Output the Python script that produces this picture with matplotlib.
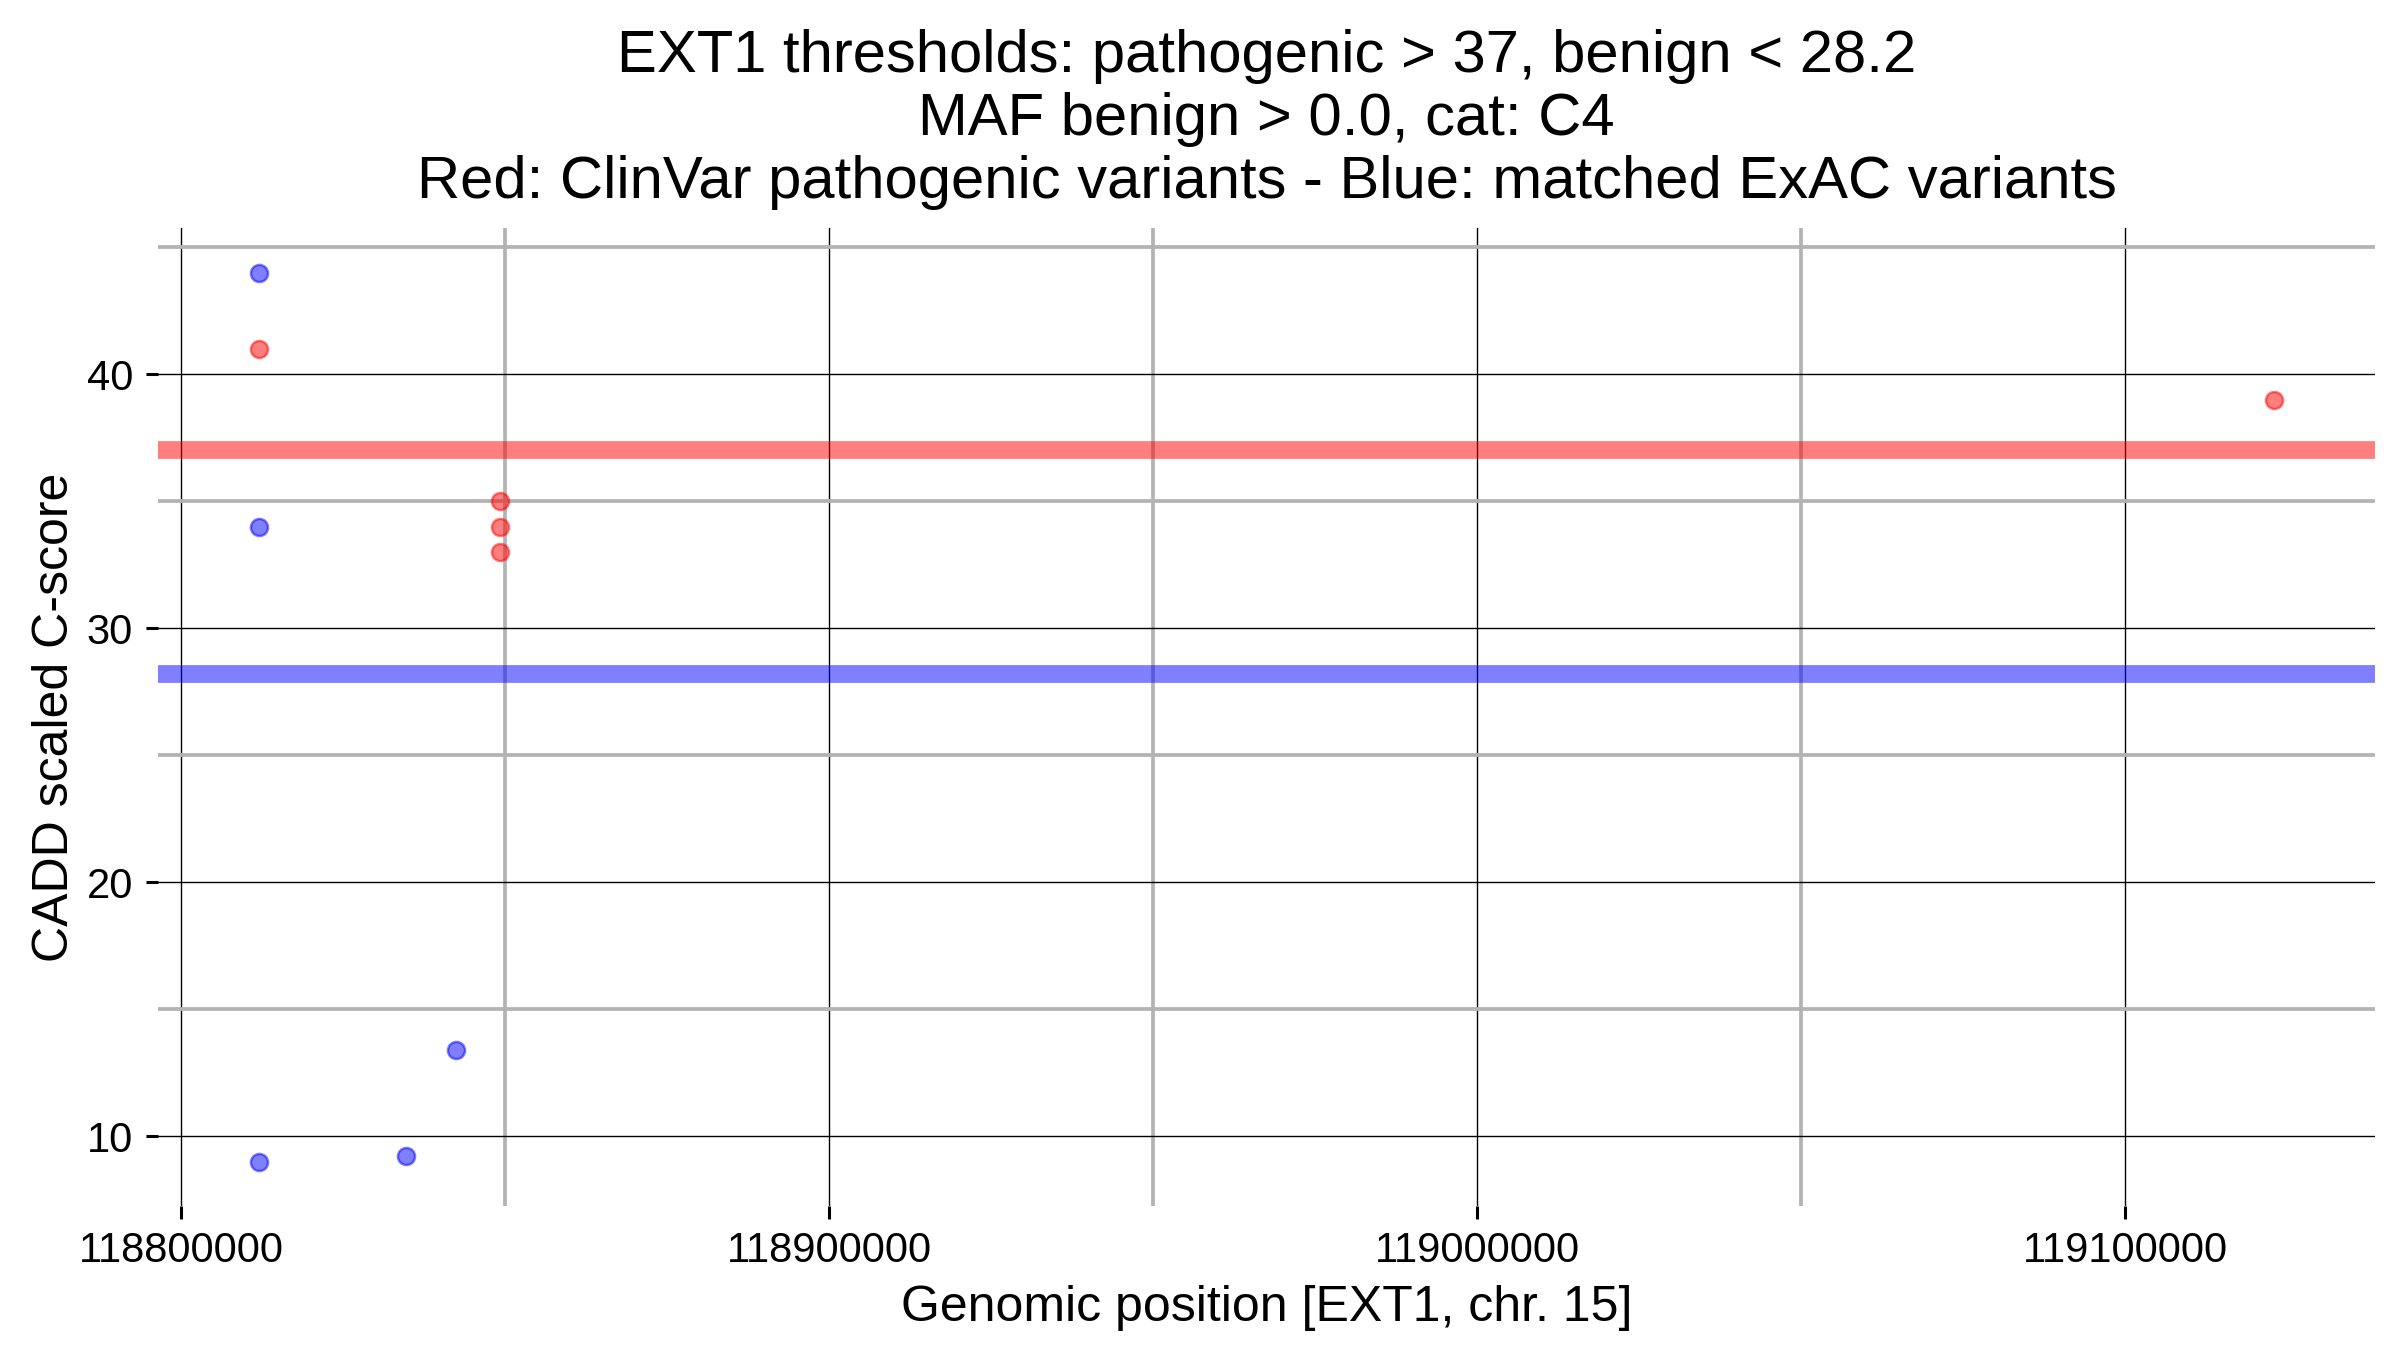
import matplotlib
matplotlib.use("Agg")
import matplotlib.pyplot as plt
from matplotlib.ticker import FixedLocator

plt.rcParams['font.family'] = ['Liberation Sans', 'DejaVu Sans']

# ---- data ----
benign_pos = [118812000, 118812000, 118812000, 118834800, 118842400]
benign_score = [44, 34, 9, 9.2, 13.4]
patho_pos = [118812000, 118849300, 118849300, 118849300, 119123000]
patho_score = [41, 35, 34, 33, 39]
patho_threshold = 37
benign_threshold = 28.2
x_major = [118800000, 118900000, 119000000, 119100000]
x_minor = [118850000, 118950000, 119050000]
y_major = [10, 20, 30, 40]
y_minor = [15, 25, 35, 45]
title_lines = ["EXT1 thresholds: pathogenic > 37, benign < 28.2",
               "MAF benign > 0.0, cat: C4",
               "Red: ClinVar pathogenic variants - Blue: matched ExAC variants"]
xlabel = "Genomic position [EXT1, chr. 15]"
ylabel = "CADD scaled C-score"

fig = plt.figure(figsize=(12, 6.75), dpi=200)
ax = fig.add_axes([0.0658, 0.1067, 0.9896 - 0.0658, 0.831 - 0.1067])

for s in ax.spines.values():
    s.set_visible(False)

ax.set_axisbelow(True)
ax.xaxis.set_major_locator(FixedLocator(x_major))
ax.xaxis.set_minor_locator(FixedLocator(x_minor))
ax.yaxis.set_major_locator(FixedLocator(y_major))
ax.yaxis.set_minor_locator(FixedLocator(y_minor))
ax.set_xticks(x_major)
ax.set_xticklabels([str(v) for v in x_major])
ax.set_yticks(y_major)
ax.set_yticklabels([str(v) for v in y_major])

ax.grid(which='minor', color='#b3b3b3', linewidth=1.35, zorder=0)
ax.grid(which='major', color='black', linewidth=0.5, zorder=0.5)
ax.tick_params(which='minor', length=0)
ax.tick_params(which='major', length=4.5, width=1.1, color='black',
               labelsize=15, pad=4.5, labelcolor='black')

ax.axhline(patho_threshold, color='red', alpha=0.5, linewidth=6.4, zorder=1)
ax.axhline(benign_threshold, color='blue', alpha=0.5, linewidth=6.4, zorder=1)

ax.scatter(patho_pos, patho_score, s=38, facecolor=(1, 0, 0, 0.5),
           edgecolor=(1, 0, 0, 0.5), linewidth=0.9, zorder=3)
ax.scatter(benign_pos, benign_score, s=38, facecolor=(0, 0, 1, 0.5),
           edgecolor=(0, 0, 1, 0.5), linewidth=0.9, zorder=3)

allx = benign_pos + patho_pos
ally = benign_score + patho_score
xr = max(allx) - min(allx)
yr = max(ally) - min(ally)
ax.set_xlim(min(allx) - 0.05 * xr, max(allx) + 0.05 * xr)
ax.set_ylim(min(ally) - 0.05 * yr, max(ally) + 0.05 * yr)

ax.set_title("\n".join(title_lines), fontsize=21.5, linespacing=1.18, pad=11)
ax.set_xlabel(xlabel, fontsize=18, labelpad=5)
ax.set_ylabel(ylabel, fontsize=18, labelpad=3)

fig.savefig("out.png", dpi=200)
